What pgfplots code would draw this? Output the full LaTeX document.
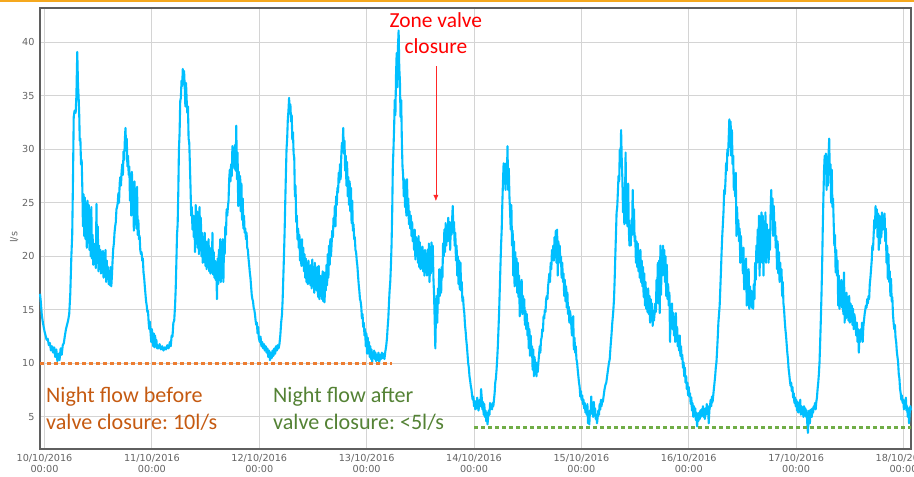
\documentclass[border=0pt]{standalone}
\usepackage{fontspec}
\setmainfont{Carlito}
\newfontfamily\tickfont{DejaVu Sans}
\usepackage{pgfplots}
\usepackage{pgfplotstable}
\pgfplotsset{compat=1.18}
\usetikzlibrary{arrows.meta}
\frenchspacing
\definecolor{flowblue}{RGB}{0,191,255}
\definecolor{dotorange}{RGB}{237,125,49}
\definecolor{txtorange}{RGB}{197,90,17}
\definecolor{dotgreen}{RGB}{112,173,71}
\definecolor{txtgreen}{RGB}{84,130,53}
\definecolor{topamber}{RGB}{245,168,30}
\definecolor{framegray}{RGB}{95,95,95}
\definecolor{gridgray}{RGB}{212,212,212}
\definecolor{ticktext}{RGB}{100,100,100}

\pgfplotstableread[row sep=\\]{
d v\\
-0.042 16.5\\ -0.035 15.8\\ -0.025 14.5\\ -0.015 13.8\\ 0.000 13.0\\ 0.010 12.6\\ 0.020 12.2\\ 0.030 12.3\\ 0.040 11.7\\ 0.050 11.9\\
0.060 11.2\\ 0.070 11.6\\ 0.080 11.0\\ 0.090 11.5\\ 0.100 10.6\\ 0.110 11.3\\ 0.120 10.2\\ 0.130 10.9\\ 0.140 10.3\\ 0.150 11.4\\
0.160 10.8\\ 0.170 11.7\\ 0.180 11.9\\ 0.190 12.6\\ 0.200 13.2\\ 0.210 13.6\\ 0.220 14.0\\ 0.230 14.6\\ 0.240 16.5\\ 0.250 20.0\\
0.258 22.0\\ 0.265 27.0\\ 0.272 33.0\\ 0.280 33.6\\ 0.290 33.4\\ 0.297 35.0\\ 0.305 39.1\\ 0.312 36.0\\ 0.318 34.8\\ 0.324 33.0\\
0.328 30.8\\ 0.334 31.0\\ 0.340 28.6\\ 0.346 29.0\\ 0.352 26.5\\ 0.358 22.8\\ 0.364 25.8\\ 0.370 21.9\\ 0.376 25.5\\ 0.382 21.6\\
0.388 24.0\\ 0.394 20.8\\ 0.400 25.2\\ 0.406 21.5\\ 0.412 24.8\\ 0.418 20.6\\ 0.424 23.2\\ 0.430 20.0\\ 0.436 24.6\\ 0.442 19.8\\
0.448 22.0\\ 0.454 19.2\\ 0.460 21.2\\ 0.466 19.9\\ 0.472 20.0\\ 0.478 18.9\\ 0.484 24.9\\ 0.490 19.4\\ 0.496 22.8\\ 0.502 18.6\\
0.508 21.0\\ 0.514 19.5\\ 0.520 20.6\\ 0.526 18.4\\ 0.532 20.4\\ 0.538 18.9\\ 0.544 20.5\\ 0.550 18.0\\ 0.556 19.7\\ 0.562 18.1\\
0.568 20.6\\ 0.574 17.6\\ 0.580 19.6\\ 0.586 17.9\\ 0.592 19.0\\ 0.598 17.4\\ 0.604 18.2\\ 0.610 17.3\\ 0.616 19.0\\ 0.622 17.2\\
0.628 18.2\\ 0.634 19.6\\ 0.640 20.7\\ 0.646 21.2\\ 0.652 22.2\\ 0.658 22.8\\ 0.664 23.2\\ 0.670 24.4\\ 0.676 24.6\\ 0.682 25.0\\
0.688 25.9\\ 0.694 25.0\\ 0.700 26.8\\ 0.706 27.4\\ 0.712 26.6\\ 0.718 27.9\\ 0.724 28.6\\ 0.730 27.6\\ 0.736 29.8\\ 0.742 29.0\\
0.748 30.8\\ 0.754 32.0\\ 0.760 30.2\\ 0.766 31.0\\ 0.772 28.4\\ 0.778 29.4\\ 0.784 27.6\\ 0.790 28.4\\ 0.796 25.2\\ 0.802 27.6\\
0.808 23.8\\ 0.814 27.9\\ 0.820 24.2\\ 0.826 26.8\\ 0.832 22.4\\ 0.838 27.0\\ 0.844 23.0\\ 0.850 25.2\\ 0.856 22.6\\ 0.862 26.5\\
0.868 22.0\\ 0.874 23.4\\ 0.880 21.6\\ 0.886 21.9\\ 0.892 20.6\\ 0.898 20.2\\ 0.904 20.4\\ 0.910 19.6\\ 0.916 19.8\\ 0.922 18.5\\
0.928 18.0\\ 0.934 17.2\\ 0.940 16.5\\ 0.946 15.8\\ 0.952 15.4\\ 0.958 14.8\\ 0.964 14.9\\ 0.970 13.8\\ 0.976 13.2\\ 0.982 13.9\\
0.988 12.8\\ 0.994 12.0\\ 1.000 13.2\\ 1.006 12.4\\ 1.012 11.6\\ 1.018 12.8\\ 1.024 11.5\\ 1.030 12.6\\ 1.036 11.6\\ 1.042 12.2\\
1.048 11.4\\ 1.060 11.4\\ 1.072 11.8\\ 1.084 11.3\\ 1.096 11.6\\ 1.108 11.2\\ 1.120 11.5\\ 1.132 11.3\\ 1.144 11.7\\ 1.156 11.4\\
1.168 12.0\\ 1.176 11.6\\ 1.184 12.6\\ 1.192 12.5\\ 1.200 13.8\\ 1.208 14.0\\ 1.216 15.4\\ 1.222 17.0\\ 1.228 19.4\\ 1.234 22.0\\
1.240 23.0\\ 1.246 26.0\\ 1.252 30.0\\ 1.258 31.5\\ 1.264 34.5\\ 1.270 34.8\\ 1.276 36.4\\ 1.282 35.9\\ 1.288 37.5\\ 1.294 36.7\\
1.300 37.3\\ 1.306 35.8\\ 1.312 34.0\\ 1.318 36.2\\ 1.324 34.6\\ 1.330 33.4\\ 1.336 34.0\\ 1.342 31.0\\ 1.348 30.6\\ 1.354 28.6\\
1.360 26.4\\ 1.366 23.8\\ 1.372 24.6\\ 1.378 22.5\\ 1.384 23.8\\ 1.390 21.8\\ 1.396 23.4\\ 1.402 20.4\\ 1.408 24.8\\ 1.414 21.2\\
1.420 24.2\\ 1.426 20.8\\ 1.432 22.6\\ 1.438 20.2\\ 1.444 24.6\\ 1.450 21.0\\ 1.456 23.6\\ 1.462 20.0\\ 1.468 22.2\\ 1.474 19.4\\
1.480 21.8\\ 1.486 19.6\\ 1.492 22.2\\ 1.498 19.1\\ 1.504 21.4\\ 1.510 18.8\\ 1.516 20.6\\ 1.522 19.0\\ 1.528 21.6\\ 1.534 18.6\\
1.540 20.8\\ 1.546 18.4\\ 1.552 19.8\\ 1.558 18.5\\ 1.564 22.2\\ 1.570 18.3\\ 1.576 20.4\\ 1.582 18.0\\ 1.588 19.6\\ 1.594 17.8\\
1.600 19.2\\ 1.606 16.0\\ 1.612 19.8\\ 1.618 17.4\\ 1.624 20.6\\ 1.630 18.2\\ 1.636 21.6\\ 1.642 17.6\\ 1.648 21.2\\ 1.654 18.0\\
1.660 21.6\\ 1.666 17.6\\ 1.672 21.4\\ 1.678 20.2\\ 1.684 22.8\\ 1.690 22.0\\ 1.696 24.4\\ 1.702 23.8\\ 1.708 24.6\\ 1.714 25.2\\
1.720 27.2\\ 1.726 28.1\\ 1.732 27.0\\ 1.738 28.6\\ 1.744 27.5\\ 1.750 30.3\\ 1.756 28.8\\ 1.762 29.8\\ 1.768 28.2\\ 1.774 30.4\\
1.780 28.0\\ 1.786 32.2\\ 1.792 27.2\\ 1.798 29.7\\ 1.804 24.7\\ 1.810 27.9\\ 1.816 25.2\\ 1.822 27.5\\ 1.828 24.2\\ 1.834 26.8\\
1.840 23.4\\ 1.846 25.4\\ 1.852 22.6\\ 1.858 23.8\\ 1.864 22.2\\ 1.870 22.6\\ 1.876 21.6\\ 1.882 22.2\\ 1.888 20.8\\ 1.894 20.6\\
1.900 19.8\\ 1.906 19.2\\ 1.912 18.5\\ 1.918 18.0\\ 1.924 17.2\\ 1.930 16.4\\ 1.936 16.0\\ 1.942 15.8\\ 1.948 15.2\\ 1.954 15.0\\
1.960 14.6\\ 1.966 14.0\\ 1.972 13.6\\ 1.978 13.8\\ 1.984 12.8\\ 1.990 13.4\\ 1.996 12.4\\ 2.004 12.0\\ 2.012 12.5\\ 2.020 11.6\\
2.028 12.0\\ 2.036 11.4\\ 2.044 11.8\\ 2.052 11.2\\ 2.060 11.6\\ 2.068 11.0\\ 2.076 11.4\\ 2.084 10.6\\ 2.092 11.2\\ 2.100 10.3\\
2.108 11.0\\ 2.116 10.5\\ 2.124 11.2\\ 2.132 10.7\\ 2.140 11.4\\ 2.148 10.9\\ 2.156 11.6\\ 2.164 11.2\\ 2.172 11.7\\ 2.180 11.4\\
2.188 11.8\\ 2.196 12.6\\ 2.204 13.8\\ 2.212 14.6\\ 2.218 16.0\\ 2.224 18.0\\ 2.230 20.0\\ 2.236 22.2\\ 2.242 25.0\\ 2.248 27.6\\
2.254 30.0\\ 2.260 31.0\\ 2.266 32.8\\ 2.272 33.6\\ 2.278 34.8\\ 2.284 33.4\\ 2.290 34.2\\ 2.296 32.6\\ 2.302 33.2\\ 2.308 30.9\\
2.314 31.6\\ 2.320 29.6\\ 2.326 29.2\\ 2.332 25.6\\ 2.338 26.6\\ 2.344 23.2\\ 2.350 23.8\\ 2.356 21.6\\ 2.362 22.6\\ 2.368 20.8\\
2.374 22.0\\ 2.380 19.6\\ 2.386 21.4\\ 2.392 19.1\\ 2.398 21.6\\ 2.404 19.4\\ 2.410 20.8\\ 2.416 18.6\\ 2.422 20.2\\ 2.428 18.0\\
2.434 19.8\\ 2.440 17.6\\ 2.446 19.4\\ 2.452 17.4\\ 2.458 19.6\\ 2.464 17.8\\ 2.470 18.6\\ 2.476 17.3\\ 2.482 19.2\\ 2.488 17.0\\
2.494 19.7\\ 2.500 17.2\\ 2.506 18.8\\ 2.512 16.6\\ 2.518 19.4\\ 2.524 17.4\\ 2.530 18.4\\ 2.536 16.8\\ 2.542 19.0\\ 2.548 16.2\\
2.554 19.1\\ 2.560 16.0\\ 2.566 18.2\\ 2.572 16.6\\ 2.578 17.8\\ 2.584 16.0\\ 2.590 18.6\\ 2.596 15.8\\ 2.602 18.5\\ 2.608 15.7\\
2.614 17.6\\ 2.620 16.8\\ 2.626 19.2\\ 2.632 17.3\\ 2.638 20.2\\ 2.644 18.0\\ 2.650 21.0\\ 2.656 19.2\\ 2.662 21.6\\ 2.668 20.0\\
2.674 21.2\\ 2.680 22.4\\ 2.686 21.8\\ 2.692 23.6\\ 2.698 22.8\\ 2.704 24.7\\ 2.710 22.8\\ 2.716 25.6\\ 2.722 24.8\\ 2.728 26.4\\
2.734 26.0\\ 2.740 27.8\\ 2.746 26.9\\ 2.752 28.6\\ 2.758 27.2\\ 2.764 29.4\\ 2.770 30.6\\ 2.776 30.0\\ 2.782 32.0\\ 2.788 29.6\\
2.794 30.8\\ 2.800 28.0\\ 2.806 29.4\\ 2.812 26.6\\ 2.818 28.8\\ 2.824 25.6\\ 2.830 27.4\\ 2.836 24.8\\ 2.842 27.0\\ 2.848 24.2\\
2.854 26.4\\ 2.860 23.1\\ 2.866 25.2\\ 2.872 22.4\\ 2.878 23.0\\ 2.884 21.6\\ 2.890 21.8\\ 2.896 20.6\\ 2.902 20.4\\ 2.908 19.6\\
2.914 19.1\\ 2.920 18.2\\ 2.926 17.4\\ 2.932 16.8\\ 2.938 16.0\\ 2.944 15.8\\ 2.950 15.3\\ 2.956 14.2\\ 2.962 14.6\\ 2.968 13.4\\
2.974 13.8\\ 2.980 12.6\\ 2.986 13.2\\ 2.992 11.6\\ 2.998 12.8\\ 3.004 10.9\\ 3.010 12.4\\ 3.016 11.4\\ 3.022 12.0\\ 3.028 10.6\\
3.034 11.6\\ 3.040 10.4\\ 3.046 11.3\\ 3.052 10.1\\ 3.058 11.0\\ 3.064 10.6\\ 3.070 11.2\\ 3.076 10.4\\ 3.082 11.0\\ 3.088 10.2\\
3.094 10.8\\ 3.100 10.3\\ 3.110 11.0\\ 3.118 10.1\\ 3.126 10.8\\ 3.134 10.4\\ 3.142 11.0\\ 3.150 10.5\\ 3.158 10.9\\ 3.166 10.4\\
3.174 11.1\\ 3.182 11.6\\ 3.190 12.4\\ 3.196 13.4\\ 3.202 14.2\\ 3.208 15.6\\ 3.214 16.8\\ 3.220 17.6\\ 3.226 19.1\\ 3.232 21.0\\
3.238 24.0\\ 3.244 28.4\\ 3.250 30.0\\ 3.256 32.0\\ 3.262 34.6\\ 3.268 33.2\\ 3.274 37.0\\ 3.280 39.0\\ 3.286 35.8\\ 3.292 39.6\\
3.298 41.1\\ 3.304 37.6\\ 3.310 36.4\\ 3.316 33.0\\ 3.322 34.6\\ 3.328 30.8\\ 3.334 28.4\\ 3.340 27.6\\ 3.346 25.6\\ 3.352 27.2\\
3.358 24.6\\ 3.364 26.4\\ 3.370 23.8\\ 3.376 27.2\\ 3.382 24.1\\ 3.388 25.4\\ 3.394 23.0\\ 3.400 24.2\\ 3.406 22.6\\ 3.412 23.8\\
3.418 21.9\\ 3.424 23.2\\ 3.430 21.4\\ 3.436 22.4\\ 3.442 20.6\\ 3.448 22.5\\ 3.454 19.7\\ 3.460 21.8\\ 3.466 20.2\\ 3.472 21.6\\
3.478 19.4\\ 3.484 21.9\\ 3.490 19.0\\ 3.496 21.3\\ 3.502 18.8\\ 3.508 20.6\\ 3.514 19.6\\ 3.520 20.9\\ 3.526 18.6\\ 3.532 20.2\\
3.538 18.2\\ 3.544 20.6\\ 3.550 18.9\\ 3.556 20.2\\ 3.562 18.2\\ 3.568 20.6\\ 3.574 18.6\\ 3.580 21.2\\ 3.586 17.6\\ 3.592 20.0\\
3.598 18.4\\ 3.604 21.3\\ 3.610 19.0\\ 3.616 21.0\\ 3.622 18.0\\ 3.628 16.4\\ 3.634 14.0\\ 3.640 11.4\\ 3.646 14.8\\ 3.652 16.3\\
3.658 13.8\\ 3.664 17.0\\ 3.670 15.6\\ 3.676 18.8\\ 3.682 16.3\\ 3.688 17.4\\ 3.694 16.6\\ 3.700 19.0\\ 3.706 18.0\\ 3.712 21.2\\
3.718 20.0\\ 3.724 22.5\\ 3.730 20.4\\ 3.736 23.1\\ 3.742 21.0\\ 3.748 22.6\\ 3.754 21.4\\ 3.760 23.6\\ 3.766 21.8\\ 3.772 23.2\\
3.778 20.6\\ 3.784 22.8\\ 3.790 22.0\\ 3.796 23.4\\ 3.802 24.7\\ 3.808 22.2\\ 3.814 23.2\\ 3.820 21.0\\ 3.826 22.2\\ 3.832 19.6\\
3.838 21.0\\ 3.844 18.2\\ 3.850 20.0\\ 3.856 17.4\\ 3.862 19.6\\ 3.868 16.9\\ 3.874 19.4\\ 3.880 16.8\\ 3.886 17.6\\ 3.892 15.8\\
3.898 16.2\\ 3.904 15.2\\ 3.910 14.7\\ 3.916 13.6\\ 3.922 13.0\\ 3.928 12.2\\ 3.934 11.6\\ 3.940 10.8\\ 3.946 10.0\\ 3.952 9.6\\
3.958 8.8\\ 3.964 8.4\\ 3.970 7.9\\ 3.976 7.6\\ 3.982 7.0\\ 3.988 6.6\\ 3.994 6.9\\ 4.000 6.0\\ 4.006 6.5\\ 4.012 5.7\\
4.018 6.2\\ 4.024 5.8\\ 4.030 6.8\\ 4.036 6.1\\ 4.042 5.6\\ 4.048 6.0\\ 4.054 6.6\\ 4.060 6.0\\ 4.066 7.6\\ 4.072 6.8\\
4.078 5.7\\ 4.084 6.4\\ 4.090 5.2\\ 4.096 6.2\\ 4.102 5.0\\ 4.108 5.6\\ 4.114 4.6\\ 4.120 5.4\\ 4.126 4.3\\ 4.132 5.0\\
4.138 5.6\\ 4.144 5.2\\ 4.150 6.3\\ 4.156 5.8\\ 4.162 6.0\\ 4.168 5.7\\ 4.174 6.3\\ 4.180 6.0\\ 4.186 6.6\\ 4.192 7.2\\
4.198 8.2\\ 4.204 8.6\\ 4.210 9.4\\ 4.216 10.4\\ 4.222 11.6\\ 4.228 13.2\\ 4.234 14.8\\ 4.240 16.9\\ 4.246 19.0\\ 4.252 21.0\\
4.258 22.5\\ 4.264 25.0\\ 4.270 27.0\\ 4.276 28.7\\ 4.282 26.8\\ 4.288 28.6\\ 4.294 26.2\\ 4.300 28.7\\ 4.306 27.0\\ 4.312 30.3\\
4.318 26.2\\ 4.324 28.2\\ 4.330 25.6\\ 4.336 24.2\\ 4.342 22.5\\ 4.348 24.8\\ 4.354 21.0\\ 4.360 22.4\\ 4.366 18.2\\ 4.372 21.4\\
4.378 17.2\\ 4.384 20.4\\ 4.390 17.8\\ 4.396 19.8\\ 4.402 16.6\\ 4.408 19.4\\ 4.414 16.2\\ 4.420 18.2\\ 4.426 14.4\\ 4.432 17.6\\
4.438 15.4\\ 4.444 17.8\\ 4.450 14.6\\ 4.456 16.3\\ 4.462 14.8\\ 4.468 16.0\\ 4.474 13.6\\ 4.480 14.9\\ 4.486 13.2\\ 4.492 14.6\\
4.498 12.6\\ 4.504 13.8\\ 4.510 11.4\\ 4.516 13.2\\ 4.522 10.7\\ 4.528 12.6\\ 4.534 10.8\\ 4.540 11.6\\ 4.546 9.4\\ 4.552 11.3\\
4.558 8.8\\ 4.564 10.6\\ 4.570 9.6\\ 4.576 10.1\\ 4.582 8.8\\ 4.588 10.0\\ 4.594 9.2\\ 4.600 10.1\\ 4.606 10.8\\ 4.612 11.6\\
4.618 11.0\\ 4.624 12.2\\ 4.630 12.4\\ 4.636 13.2\\ 4.642 13.0\\ 4.648 14.4\\ 4.654 14.2\\ 4.660 15.0\\ 4.666 14.8\\ 4.672 16.0\\
4.678 16.3\\ 4.684 16.0\\ 4.690 17.2\\ 4.696 17.8\\ 4.702 18.4\\ 4.708 17.6\\ 4.714 19.4\\ 4.720 18.8\\ 4.726 20.6\\ 4.732 19.8\\
4.738 21.0\\ 4.744 19.6\\ 4.750 21.8\\ 4.756 20.0\\ 4.762 22.4\\ 4.768 19.4\\ 4.774 22.5\\ 4.780 18.2\\ 4.786 21.4\\ 4.792 20.0\\
4.798 21.0\\ 4.804 19.4\\ 4.810 20.0\\ 4.816 18.0\\ 4.822 19.4\\ 4.828 17.6\\ 4.834 18.4\\ 4.840 16.3\\ 4.846 17.8\\ 4.852 15.8\\
4.858 17.2\\ 4.864 15.2\\ 4.870 16.6\\ 4.876 14.6\\ 4.882 15.3\\ 4.888 13.8\\ 4.894 14.9\\ 4.900 14.4\\ 4.906 13.6\\ 4.912 12.6\\
4.918 13.2\\ 4.924 14.4\\ 4.930 11.3\\ 4.936 12.4\\ 4.942 11.0\\ 4.948 11.6\\ 4.954 10.4\\ 4.960 10.1\\ 4.966 9.4\\ 4.972 8.8\\
4.978 8.2\\ 4.984 7.8\\ 4.990 6.9\\ 4.996 7.4\\ 5.002 6.6\\ 5.008 7.0\\ 5.014 6.2\\ 5.020 6.6\\ 5.026 5.8\\ 5.032 6.3\\
5.038 5.4\\ 5.044 6.0\\ 5.050 5.2\\ 5.056 6.2\\ 5.062 4.4\\ 5.068 4.8\\ 5.074 4.3\\ 5.080 5.6\\ 5.086 5.2\\ 5.092 6.9\\
5.098 5.4\\ 5.104 6.2\\ 5.110 5.0\\ 5.116 6.4\\ 5.122 5.4\\ 5.128 5.8\\ 5.134 4.8\\ 5.140 5.0\\ 5.146 4.4\\ 5.152 5.0\\
5.158 5.6\\ 5.164 5.2\\ 5.170 6.2\\ 5.176 5.7\\ 5.182 6.6\\ 5.188 6.0\\ 5.194 6.6\\ 5.200 6.4\\ 5.208 7.0\\ 5.216 7.6\\
5.224 8.0\\ 5.232 8.2\\ 5.240 8.8\\ 5.248 9.4\\ 5.256 10.0\\ 5.264 10.4\\ 5.272 11.6\\ 5.280 12.6\\ 5.288 13.8\\ 5.296 14.7\\
5.304 16.0\\ 5.310 17.8\\ 5.316 20.0\\ 5.322 22.0\\ 5.328 24.1\\ 5.334 24.6\\ 5.340 26.0\\ 5.346 27.5\\ 5.352 27.0\\ 5.358 30.0\\
5.364 28.4\\ 5.370 31.8\\ 5.376 29.0\\ 5.382 27.2\\ 5.388 24.1\\ 5.394 26.4\\ 5.400 23.0\\ 5.406 25.0\\ 5.412 29.7\\ 5.418 23.1\\
5.424 25.6\\ 5.430 22.8\\ 5.436 26.8\\ 5.442 22.5\\ 5.448 21.0\\ 5.454 22.6\\ 5.460 21.0\\ 5.466 23.4\\ 5.472 22.0\\ 5.478 26.2\\
5.484 22.5\\ 5.490 24.4\\ 5.496 21.4\\ 5.502 21.9\\ 5.508 19.4\\ 5.514 21.4\\ 5.520 19.0\\ 5.526 21.2\\ 5.532 18.6\\ 5.538 20.2\\
5.544 18.0\\ 5.550 20.6\\ 5.556 17.6\\ 5.562 19.6\\ 5.568 17.2\\ 5.574 19.0\\ 5.580 16.2\\ 5.586 18.4\\ 5.592 15.4\\ 5.598 17.6\\
5.604 15.1\\ 5.610 16.8\\ 5.616 14.8\\ 5.622 17.0\\ 5.628 14.6\\ 5.634 16.3\\ 5.640 13.8\\ 5.646 16.0\\ 5.652 14.4\\ 5.658 15.6\\
5.664 13.5\\ 5.670 14.8\\ 5.676 14.0\\ 5.682 14.7\\ 5.688 15.6\\ 5.694 14.8\\ 5.700 17.8\\ 5.706 16.3\\ 5.712 19.4\\ 5.718 15.6\\
5.724 19.6\\ 5.730 14.7\\ 5.736 21.0\\ 5.742 16.4\\ 5.748 20.4\\ 5.754 18.2\\ 5.760 21.0\\ 5.766 18.6\\ 5.772 20.6\\ 5.778 17.6\\
5.784 20.0\\ 5.790 16.3\\ 5.796 19.2\\ 5.802 16.0\\ 5.808 17.4\\ 5.814 15.4\\ 5.820 16.6\\ 5.826 12.0\\ 5.832 15.4\\ 5.838 13.8\\
5.844 15.6\\ 5.850 13.2\\ 5.856 14.7\\ 5.862 12.6\\ 5.868 14.2\\ 5.874 12.0\\ 5.880 14.7\\ 5.886 12.4\\ 5.892 13.4\\ 5.898 11.6\\
5.904 12.6\\ 5.910 11.2\\ 5.916 12.6\\ 5.922 10.7\\ 5.928 11.6\\ 5.934 10.4\\ 5.940 10.8\\ 5.946 9.6\\ 5.952 10.1\\ 5.958 8.8\\
5.964 9.6\\ 5.970 8.2\\ 5.976 8.8\\ 5.982 7.6\\ 5.988 8.2\\ 5.994 7.0\\ 6.000 7.8\\ 6.006 6.9\\ 6.012 7.2\\ 6.018 6.2\\
6.024 6.8\\ 6.030 5.6\\ 6.036 6.3\\ 6.042 5.0\\ 6.048 6.0\\ 6.054 5.2\\ 6.060 5.8\\ 6.066 4.7\\ 6.072 5.4\\ 6.078 4.1\\
6.084 5.0\\ 6.090 4.6\\ 6.096 5.4\\ 6.102 4.8\\ 6.108 5.6\\ 6.114 5.0\\ 6.120 5.7\\ 6.126 5.2\\ 6.132 6.0\\ 6.138 5.0\\
6.144 5.7\\ 6.150 4.8\\ 6.156 5.8\\ 6.162 5.2\\ 6.168 6.2\\ 6.174 5.5\\ 6.180 6.0\\ 6.186 4.4\\ 6.192 5.6\\ 6.198 6.0\\
6.204 6.6\\ 6.210 6.0\\ 6.216 6.9\\ 6.222 6.4\\ 6.228 7.0\\ 6.234 7.6\\ 6.240 8.2\\ 6.246 8.8\\ 6.252 9.6\\ 6.258 10.1\\
6.264 11.2\\ 6.270 12.4\\ 6.276 13.8\\ 6.282 14.6\\ 6.288 15.4\\ 6.294 17.0\\ 6.300 18.6\\ 6.306 20.4\\ 6.312 21.9\\ 6.318 23.0\\
6.324 24.2\\ 6.330 26.2\\ 6.336 25.8\\ 6.342 27.0\\ 6.348 28.7\\ 6.354 28.0\\ 6.360 30.0\\ 6.366 29.4\\ 6.372 31.0\\ 6.378 32.8\\
6.384 30.2\\ 6.390 32.6\\ 6.396 29.4\\ 6.402 31.8\\ 6.408 28.6\\ 6.414 29.4\\ 6.420 26.2\\ 6.426 27.4\\ 6.432 25.6\\ 6.438 27.8\\
6.444 21.9\\ 6.450 24.6\\ 6.456 22.2\\ 6.462 23.4\\ 6.468 21.4\\ 6.474 22.6\\ 6.480 19.4\\ 6.486 21.9\\ 6.492 19.8\\ 6.498 20.6\\
6.504 18.4\\ 6.510 20.8\\ 6.516 16.9\\ 6.522 19.6\\ 6.528 17.2\\ 6.534 19.8\\ 6.540 15.4\\ 6.546 18.4\\ 6.552 16.6\\ 6.558 18.8\\
6.564 15.1\\ 6.570 17.2\\ 6.576 15.4\\ 6.582 16.8\\ 6.588 15.2\\ 6.594 16.3\\ 6.600 15.1\\ 6.606 17.4\\ 6.612 16.0\\ 6.618 19.4\\
6.624 17.8\\ 6.630 21.0\\ 6.636 19.4\\ 6.642 22.5\\ 6.648 19.8\\ 6.654 23.8\\ 6.660 18.2\\ 6.666 23.4\\ 6.672 20.0\\ 6.678 24.1\\
6.684 19.4\\ 6.690 23.8\\ 6.696 18.2\\ 6.702 22.6\\ 6.708 19.8\\ 6.714 24.1\\ 6.720 19.4\\ 6.726 23.0\\ 6.732 20.2\\ 6.738 22.5\\
6.744 19.4\\ 6.750 22.0\\ 6.756 20.6\\ 6.762 24.0\\ 6.768 26.2\\ 6.774 23.6\\ 6.780 25.4\\ 6.786 21.9\\ 6.792 24.7\\ 6.798 22.4\\
6.804 23.2\\ 6.810 20.8\\ 6.816 21.9\\ 6.822 18.8\\ 6.828 21.4\\ 6.834 18.4\\ 6.840 20.4\\ 6.846 17.6\\ 6.852 19.4\\ 6.858 17.8\\
6.864 18.8\\ 6.870 16.3\\ 6.876 17.6\\ 6.882 15.6\\ 6.888 15.0\\ 6.894 14.0\\ 6.900 13.2\\ 6.906 12.6\\ 6.912 11.8\\ 6.918 11.0\\
6.924 10.4\\ 6.930 9.5\\ 6.936 9.0\\ 6.942 8.4\\ 6.948 7.9\\ 6.954 8.2\\ 6.960 7.4\\ 6.966 7.8\\ 6.972 6.8\\ 6.978 7.2\\
6.984 6.3\\ 6.990 6.8\\ 6.996 6.0\\ 7.002 6.6\\ 7.008 5.6\\ 7.014 6.4\\ 7.020 5.4\\ 7.026 6.2\\ 7.032 5.6\\ 7.038 6.6\\
7.044 5.2\\ 7.050 6.0\\ 7.056 5.4\\ 7.062 5.8\\ 7.068 5.0\\ 7.074 6.0\\ 7.080 5.2\\ 7.086 5.8\\ 7.092 5.0\\ 7.098 5.6\\
7.104 4.4\\ 7.110 3.5\\ 7.116 4.8\\ 7.122 5.6\\ 7.128 4.4\\ 7.134 5.4\\ 7.140 5.7\\ 7.146 5.0\\ 7.152 5.8\\ 7.158 5.4\\
7.164 6.0\\ 7.170 5.8\\ 7.176 6.3\\ 7.182 5.7\\ 7.188 6.4\\ 7.194 6.8\\ 7.200 7.6\\ 7.206 8.2\\ 7.212 9.0\\ 7.218 10.1\\
7.224 12.0\\ 7.230 14.0\\ 7.236 16.3\\ 7.242 19.0\\ 7.248 22.5\\ 7.254 25.4\\ 7.260 28.0\\ 7.266 29.4\\ 7.272 28.2\\ 7.278 29.6\\
7.284 26.2\\ 7.290 28.8\\ 7.296 26.6\\ 7.302 29.4\\ 7.308 31.0\\ 7.314 27.6\\ 7.320 28.6\\ 7.326 25.0\\ 7.332 28.1\\ 7.338 24.6\\
7.344 25.4\\ 7.350 23.1\\ 7.356 21.0\\ 7.362 22.0\\ 7.368 18.5\\ 7.374 20.6\\ 7.380 18.2\\ 7.386 19.6\\ 7.392 15.4\\ 7.398 18.2\\
7.404 15.1\\ 7.410 17.6\\ 7.416 16.0\\ 7.422 17.8\\ 7.428 15.2\\ 7.434 16.8\\ 7.440 14.6\\ 7.446 18.5\\ 7.452 13.8\\ 7.458 16.4\\
7.464 14.2\\ 7.470 16.6\\ 7.476 14.8\\ 7.482 15.8\\ 7.488 14.0\\ 7.494 16.3\\ 7.500 13.8\\ 7.506 15.6\\ 7.512 14.0\\ 7.518 15.4\\
7.524 13.6\\ 7.530 15.1\\ 7.536 13.2\\ 7.542 14.6\\ 7.548 14.2\\ 7.554 13.4\\ 7.560 12.6\\ 7.566 13.8\\ 7.572 12.0\\ 7.578 13.2\\
7.584 11.0\\ 7.590 12.6\\ 7.596 12.0\\ 7.602 13.2\\ 7.608 12.4\\ 7.614 13.8\\ 7.620 12.0\\ 7.626 13.4\\ 7.632 14.0\\ 7.638 14.6\\
7.644 15.0\\ 7.650 15.4\\ 7.656 15.2\\ 7.662 16.0\\ 7.668 15.6\\ 7.674 16.3\\ 7.680 16.0\\ 7.686 17.4\\ 7.692 18.0\\ 7.698 18.8\\
7.704 19.6\\ 7.710 21.0\\ 7.716 20.6\\ 7.722 22.0\\ 7.728 23.4\\ 7.734 22.6\\ 7.740 24.7\\ 7.746 23.2\\ 7.752 24.4\\ 7.758 21.8\\
7.764 24.0\\ 7.770 20.6\\ 7.776 23.8\\ 7.782 21.2\\ 7.788 23.6\\ 7.794 21.8\\ 7.800 24.1\\ 7.806 22.5\\ 7.812 23.8\\ 7.818 22.5\\
7.824 24.0\\ 7.830 21.4\\ 7.836 22.6\\ 7.842 19.4\\ 7.848 21.0\\ 7.854 17.9\\ 7.860 20.2\\ 7.866 17.6\\ 7.872 18.6\\ 7.878 16.3\\
7.884 17.9\\ 7.890 15.8\\ 7.896 16.2\\ 7.902 14.6\\ 7.908 13.8\\ 7.914 13.2\\ 7.920 13.6\\ 7.926 12.4\\ 7.932 12.0\\ 7.938 11.1\\
7.944 10.6\\ 7.950 10.1\\ 7.956 9.0\\ 7.962 8.6\\ 7.968 7.6\\ 7.974 7.2\\ 7.980 6.6\\ 7.986 7.0\\ 7.992 6.3\\ 7.998 6.6\\
8.004 5.7\\ 8.010 6.4\\ 8.016 6.0\\ 8.022 6.8\\ 8.028 5.6\\ 8.034 6.0\\ 8.040 5.0\\ 8.046 5.8\\ 8.052 4.4\\ 8.058 5.4\\
8.064 6.0\\ 8.070 5.6\\
}\flowdata

\begin{document}
\begin{tikzpicture}
\begin{axis}[
  at={(40bp,28bp)}, anchor=south west,
  scale only axis, width=871bp, height=441bp,
  xmin=-0.042, xmax=8.07, ymin=2, ymax=43.2,
  xtick={0,1,2,3,4,5,6,7,8},
  xticklabels={10/10/2016\\00:00,11/10/2016\\00:00,12/10/2016\\00:00,13/10/2016\\00:00,14/10/2016\\00:00,15/10/2016\\00:00,16/10/2016\\00:00,17/10/2016\\00:00,18/10/2016\\00:00},
  ytick={5,10,...,40},
  /pgf/number format/assume math mode=true,
  major tick length=0pt,
  grid=major,
  major grid style={draw=gridgray, line width=0.9bp},
  axis line style={draw=framegray, line width=1.6bp},
  tick label style={font=\tickfont\fontsize{9.7}{11}\selectfont, text=ticktext},
  x tick label style={align=center, yshift=-2bp},
  y tick label style={xshift=-2bp},
  ylabel={l/s},
  every axis y label/.style={at={(axis description cs:-0.0298,0.48)}, rotate=90, anchor=center, font=\tickfont\fontsize{9.7}{11}\selectfont, text=ticktext},
  clip=false,
]
\addplot[color=flowblue, line width=2.1bp, line join=round] table[x=d, y=v] {\flowdata};
\addplot[color=dotorange, line width=3bp, dash pattern=on 3.5bp off 3.5bp] coordinates {(-0.042,10) (3.24,10)};
\addplot[color=dotgreen, line width=3bp, dash pattern=on 3.5bp off 3.5bp] coordinates {(4.0,4.0) (8.07,4.0)};

\draw[color=red!85!white, line width=0.5bp, -{Latex[length=6bp,width=5bp]}] (axis cs:3.645,37.76) -- (axis cs:3.645,25.17);
\node[anchor=base, text=red, font=\fontsize{21.5}{26}\selectfont] at (axis cs:3.645,41.4) {Zone valve};
\node[anchor=base, text=red, font=\fontsize{21.5}{26}\selectfont] at (axis cs:3.645,38.97) {closure};

\node[anchor=base west, inner sep=0pt, text=txtorange, font=\fontsize{22.2}{26}\selectfont] at (axis cs:0.014,6.3) {Night flow before};
\node[anchor=base west, inner sep=0pt, text=txtorange, font=\fontsize{22.2}{26}\selectfont] at (axis cs:0.014,3.79) {valve closure: 10l/s};
\node[anchor=base west, inner sep=0pt, text=txtgreen, font=\fontsize{22.2}{26}\selectfont] at (axis cs:2.128,6.3) {Night flow after};
\node[anchor=base west, inner sep=0pt, text=txtgreen, font=\fontsize{22.2}{26}\selectfont] at (axis cs:2.128,3.79) {valve closure: <5l/s};
\end{axis}
\draw[color=topamber, line width=1.6bp] (0,476.2bp) -- (914bp,476.2bp);
\pgfresetboundingbox
\useasboundingbox (0,0) rectangle (914bp,477bp);
\end{tikzpicture}
\end{document}
